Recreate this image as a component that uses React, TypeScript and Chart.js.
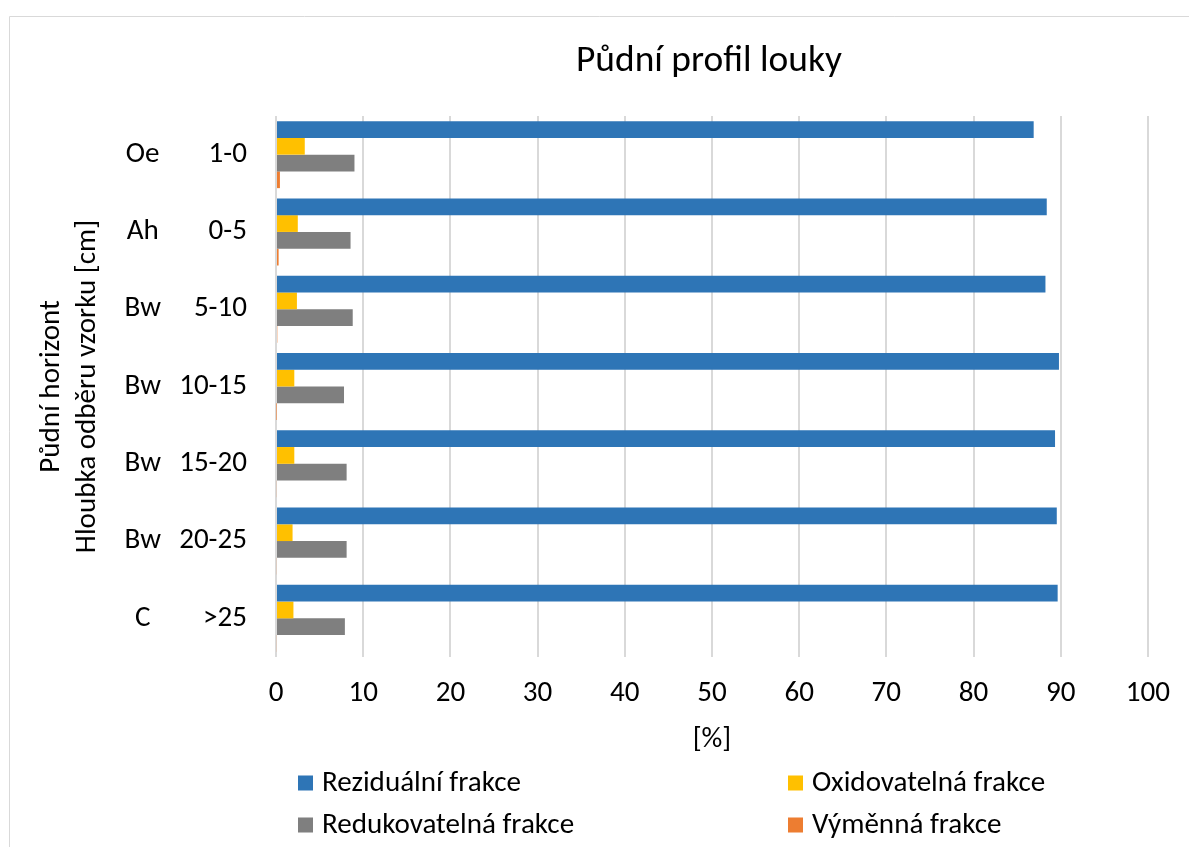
import { useEffect, useRef } from 'react';
import { Chart, registerables } from 'chart.js';

Chart.register(...registerables);

// ---- data ----
const horizons = ['Oe', 'Ah', 'Bw', 'Bw', 'Bw', 'Bw', 'C'];
const depths = ['1-0', '0-5', '5-10', '10-15', '15-20', '20-25', '>25'];
const seriesNames = ['Reziduální frakce', 'Oxidovatelná frakce', 'Redukovatelná frakce', 'Výměnná frakce'];
const rezidualni = [86.9, 88.4, 88.25, 89.8, 89.35, 89.55, 89.65];
const oxidovatelna = [3.3, 2.5, 2.4, 2.1, 2.1, 1.9, 2.0];
const redukovatelna = [9.0, 8.55, 8.8, 7.8, 8.1, 8.1, 7.9];
const vymenna = [0.45, 0.3, 0.15, 0.05, 0.1, 0.1, 0.1];
const seriesColors = ['#2E75B6', '#FFC000', '#7F7F7F', '#ED7D31'];
const xMin = 0;
const xMax = 100;
const xStep = 10;
const chartTitle = 'Půdní profil louky';
const xTitle = '[%]';
const yTitle = ['Půdní horizont', 'Hloubka odběru vzorku [cm]'];

function detectFont(): string {
  const ctx = document.createElement('canvas').getContext('2d');
  if (!ctx) return 'sans-serif';
  const probe = 'Reziduální frakce 0123456789 Bw';
  ctx.font = '40px monospace';
  const m = ctx.measureText(probe).width;
  const cands = ['Carlito', 'Calibri', 'Liberation Sans Narrow', 'Open Sans', 'Noto Sans', 'Liberation Sans'];
  for (const f of cands) {
    ctx.font = `40px "${f}", monospace`;
    const a = ctx.measureText(probe).width;
    ctx.font = `40px "${f}", serif`;
    const b = ctx.measureText(probe).width;
    if (Math.abs(a - b) < 0.01 && Math.abs(a - m) > 0.01) return `"${f}"`;
  }
  return 'sans-serif';
}

function fitSize(family: string, text: string, target: number): number {
  const ctx = document.createElement('canvas').getContext('2d');
  if (!ctx) return 28;
  ctx.font = `100px ${family}`;
  return (100 * target) / ctx.measureText(text).width;
}

export default function App() {
  const ref = useRef<HTMLCanvasElement | null>(null);

  useEffect(() => {
    if (!ref.current) return;
    const family = detectFont();
    const fam = family.replace(/"/g, '');
    const labelSize = fitSize(family, 'Reziduální frakce', 199);
    const titleSize = fitSize(family, 'Půdní profil louky', 266);
    const lblFont = { family: fam, size: labelSize, lineHeight: 1.2 };

    const decor = {
      id: 'decor',
      beforeDraw(chart: any) {
        const ctx = chart.ctx as CanvasRenderingContext2D;
        ctx.save();
        ctx.strokeStyle = '#d9d9d9';
        ctx.lineWidth = 1;
        ctx.beginPath();
        ctx.moveTo(9.5, 847);
        ctx.lineTo(9.5, 16.5);
        ctx.lineTo(1189, 16.5);
        ctx.stroke();
        ctx.restore();
      },
      afterDraw(chart: any) {
        const ctx = chart.ctx as CanvasRenderingContext2D;
        const ca = chart.chartArea;
        ctx.save();
        ctx.fillStyle = '#000';
        ctx.textAlign = 'center';
        ctx.textBaseline = 'middle';
        ctx.font = `${titleSize}px ${family}`;
        ctx.fillText(chartTitle, (ca.left + ca.right) / 2 - 3, 62);

        const colX = [298, 788];
        const rowY = [783, 825];
        ctx.font = `${labelSize}px ${family}`;
        ctx.textAlign = 'left';
        chart.data.datasets.forEach((ds: any, i: number) => {
          const x = colX[i % 2];
          const y = rowY[Math.floor(i / 2)];
          ctx.fillStyle = ds.backgroundColor;
          ctx.fillRect(x, y - 7.5, 15, 15);
          ctx.fillStyle = '#000';
          ctx.fillText(ds.label, x + 24, y + 1);
        });
        ctx.restore();
      },
    };

    const values = [rezidualni, oxidovatelna, redukovatelna, vymenna];
    const chart = new Chart(ref.current, {
      type: 'bar',
      data: {
        labels: depths,
        datasets: values.map((v, i) => ({
          label: seriesNames[i],
          data: v,
          backgroundColor: seriesColors[i],
          borderWidth: 0,
          categoryPercentage: 0.867,
          barPercentage: 1.0,
        })),
      },
      options: {
        indexAxis: 'y',
        responsive: false,
        animation: false,
        layout: { padding: { left: 0, right: 40, top: 116, bottom: 70 } },
        plugins: {
          legend: { display: false },
          title: { display: false },
          tooltip: { enabled: false },
        },
        scales: {
          x: {
            type: 'linear',
            min: xMin,
            max: xMax,
            ticks: { stepSize: xStep, color: '#000', font: lblFont, padding: 19, maxRotation: 0, autoSkip: false },
            grid: { color: '#d9d9d9', lineWidth: 2, drawTicks: false },
            border: { display: false },
            title: {
              display: true,
              text: xTitle,
              color: '#000',
              font: lblFont,
              padding: { top: 0, bottom: 19.6 },
            },
            afterFit(s: any) {
              s.height = 120;
            },
          },
          y: {
            type: 'category',
            position: 'left',
            weight: 0,
            grid: { display: false, drawTicks: false },
            border: { display: false },
            ticks: { color: '#000', font: lblFont, padding: 29, autoSkip: false },
            afterFit(s: any) {
              s.width = 106;
            },
          },
          yH: {
            type: 'category',
            labels: horizons,
            position: 'left',
            weight: 1,
            offset: true,
            grid: { display: false, drawTicks: false },
            border: { display: false },
            ticks: { color: '#000', font: lblFont, padding: 9, crossAlign: 'center', autoSkip: false },
            title: {
              display: true,
              text: yTitle,
              color: '#000',
              font: { family: fam, size: labelSize, lineHeight: 36 / labelSize },
              padding: { top: 34, bottom: 0 },
            },
            afterFit(s: any) {
              s.width = 170;
            },
          },
        } as any,
      },
      plugins: [decor],
    });
    return () => chart.destroy();
  }, []);

  return (
    <div style={{ position: 'absolute', left: 0, top: 0, width: 1189, height: 847, background: '#fff' }}>
      <canvas ref={ref} width={1189} height={847} style={{ display: 'block' }} />
    </div>
  );
}
